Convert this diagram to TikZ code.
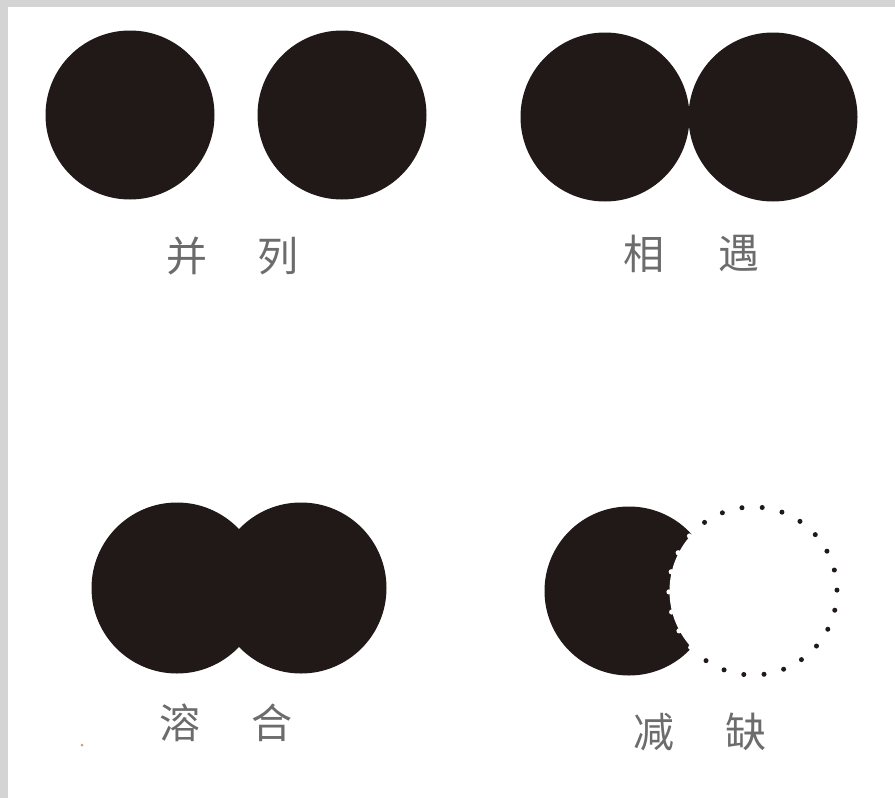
\documentclass[tikz,border=0pt]{standalone}
\usepackage{fontspec}
\usetikzlibrary{calc}
\newfontfamily\cjk{Noto Sans CJK SC}
\definecolor{ink}{RGB}{33,24,24}
\definecolor{framegray}{RGB}{212,212,212}
\definecolor{txt}{RGB}{108,108,108}
\definecolor{speck}{RGB}{225,150,110}
\begin{document}
\begin{tikzpicture}[x=1pt,y=-1pt,
  disc/.style={circle,fill=ink,draw=none,inner sep=0pt,minimum size=169pt},
  bigdisc/.style={disc,minimum size=171pt},
  lbl/.style={font=\cjk\fontsize{41}{41}\selectfont,text=txt,inner sep=0pt},
  dotmark/.style={fill=ink,draw=none},
  holemark/.style={fill=white,draw=none}]
\useasboundingbox (0,0) rectangle (895,798);
\fill[framegray] (0,0) rectangle (895,798);
\fill[white] (8,7) rectangle (895,798);

% 并列
\node[disc] (a1) at (130,115) {};
\node[disc] (a2) at (342,115) {};
\node[lbl] (la1) at (187,256) {并};
\node[lbl] (la2) at (278,256) {列};

% 相遇
\node[disc] (b1) at (605,117) {};
\node[disc] (b2) at (773,117) {};
\node[lbl] (lb1) at (644,254) {相};
\node[lbl] (lb2) at (739,254) {遇};

% 溶合
\node[bigdisc] (c1) at (177,588) {};
\node[bigdisc] (c2) at (301,588) {};
\node[lbl] (lc1) at (180,723) {溶};
\node[lbl] (lc2) at (272,723) {合};

% 减缺
\node[disc] (d1) at (629,591) {};
\coordinate (dc) at (753,591);
\fill[white] (dc) circle (83.5);
\foreach \k in {19,...,25}{
  \fill[holemark] ($(dc)+({124-\k*360/26}:{84})$) circle (2.6);
}
\foreach \k in {0,...,18}{
  \fill[dotmark] ($(dc)+({124-\k*360/26}:{84})$) circle (2.5);
}
\node[lbl] (ld1) at (654,732) {减};
\node[lbl] (ld2) at (746,732) {缺};

\fill[speck] (82,745) circle (1.5);
\end{tikzpicture}
\end{document}
